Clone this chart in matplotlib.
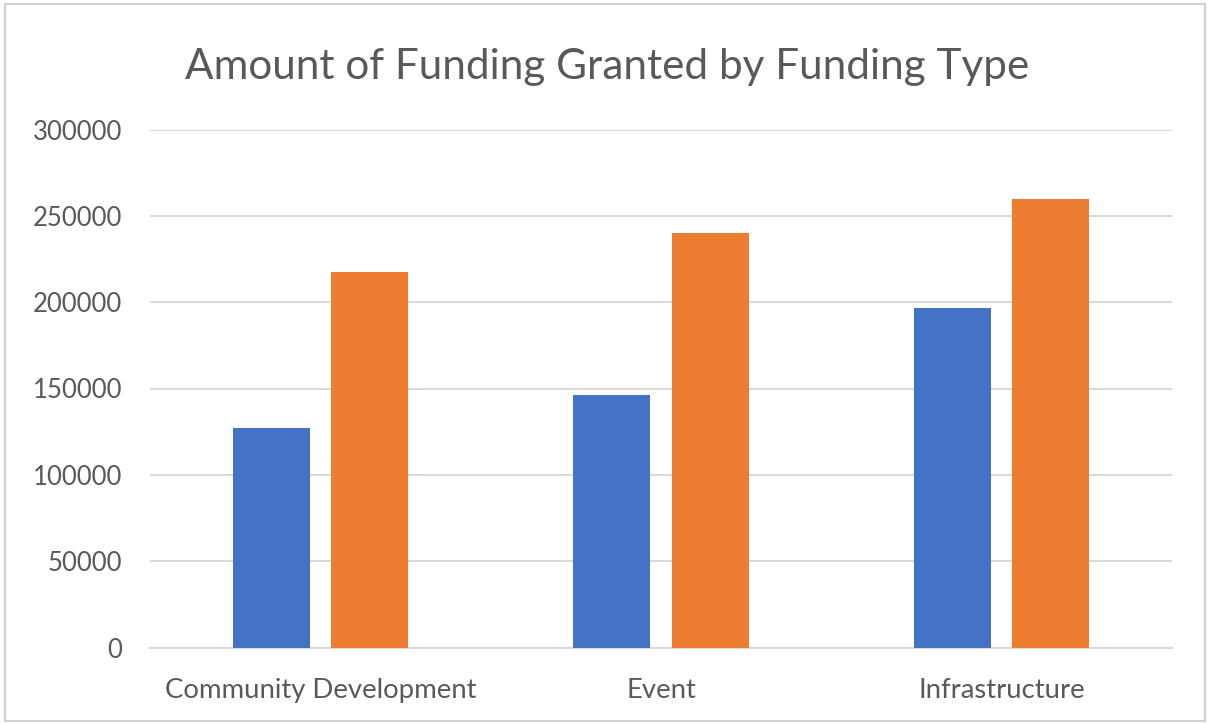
import numpy as np
import matplotlib
matplotlib.use('Agg')
import matplotlib.pyplot as plt
from matplotlib.patches import Rectangle

categories = ["Community Development", "Event", "Infrastructure"]
series_a = [127000, 146000, 196500]
series_b = [217500, 240000, 260000]
y_ticks = [0, 50000, 100000, 150000, 200000, 250000, 300000]

BLUE = "#4472C4"
ORANGE = "#ED7D31"
TEXT = "#595959"
GRID = "#D9D9D9"

plt.rcParams['font.family'] = ['Lato', 'DejaVu Sans']


def fit_size(fig, txt, target_px):
    # scale a text's font size so its rendered width hits target_px
    r = fig.canvas.get_renderer()
    w = txt.get_window_extent(renderer=r).width
    txt.set_fontsize(txt.get_fontsize() * target_px / w)


fig = plt.figure(figsize=(12.1, 7.24), dpi=100)
ax = fig.add_axes([150 / 1210, 1 - 647.5 / 724, 1022 / 1210, 518 / 724])

x = np.arange(len(categories))
bar_w = 0.226
offset = 0.144
ax.bar(x - offset, series_a, bar_w, color=BLUE, zorder=3)
ax.bar(x + offset, series_b, bar_w, color=ORANGE, zorder=3)

ax.set_xlim(-0.5, len(categories) - 0.5)
ax.set_ylim(0, 300000)
ax.set_yticks(y_ticks)
ax.set_yticklabels([str(v) for v in y_ticks])
ax.set_xticks(x)
ax.set_xticklabels(categories)
ax.yaxis.grid(True, color=GRID, linewidth=1.5, zorder=0)
ax.set_axisbelow(True)
for s in ax.spines.values():
    s.set_visible(False)
ax.spines['bottom'].set_visible(True)
ax.spines['bottom'].set_color(GRID)
ax.spines['bottom'].set_linewidth(1.5)
ax.tick_params(axis='both', length=0, labelsize=17, colors=TEXT)
ax.tick_params(axis='y', pad=20)
ax.tick_params(axis='x', pad=22)

title = fig.text(607 / 1210, 1 - 67 / 724, "Amount of Funding Granted by Funding Type",
                 ha='center', va='center', fontsize=28, color=TEXT)

fig.canvas.draw()
fit_size(fig, title, 845)
ytl = ax.get_yticklabels()
fit_size(fig, ytl[-1], 90)
xtl = ax.get_xticklabels()
fit_size(fig, xtl[0], 311)
ax.tick_params(axis='y', labelsize=ytl[-1].get_fontsize())
ax.tick_params(axis='x', labelsize=xtl[0].get_fontsize())

border = Rectangle((0.004, 0.004), 0.992, 0.99, transform=fig.transFigure,
                   fill=False, edgecolor="#D0D0D0", linewidth=1.5)
fig.patches.append(border)

fig.savefig("out.png", dpi=100)
